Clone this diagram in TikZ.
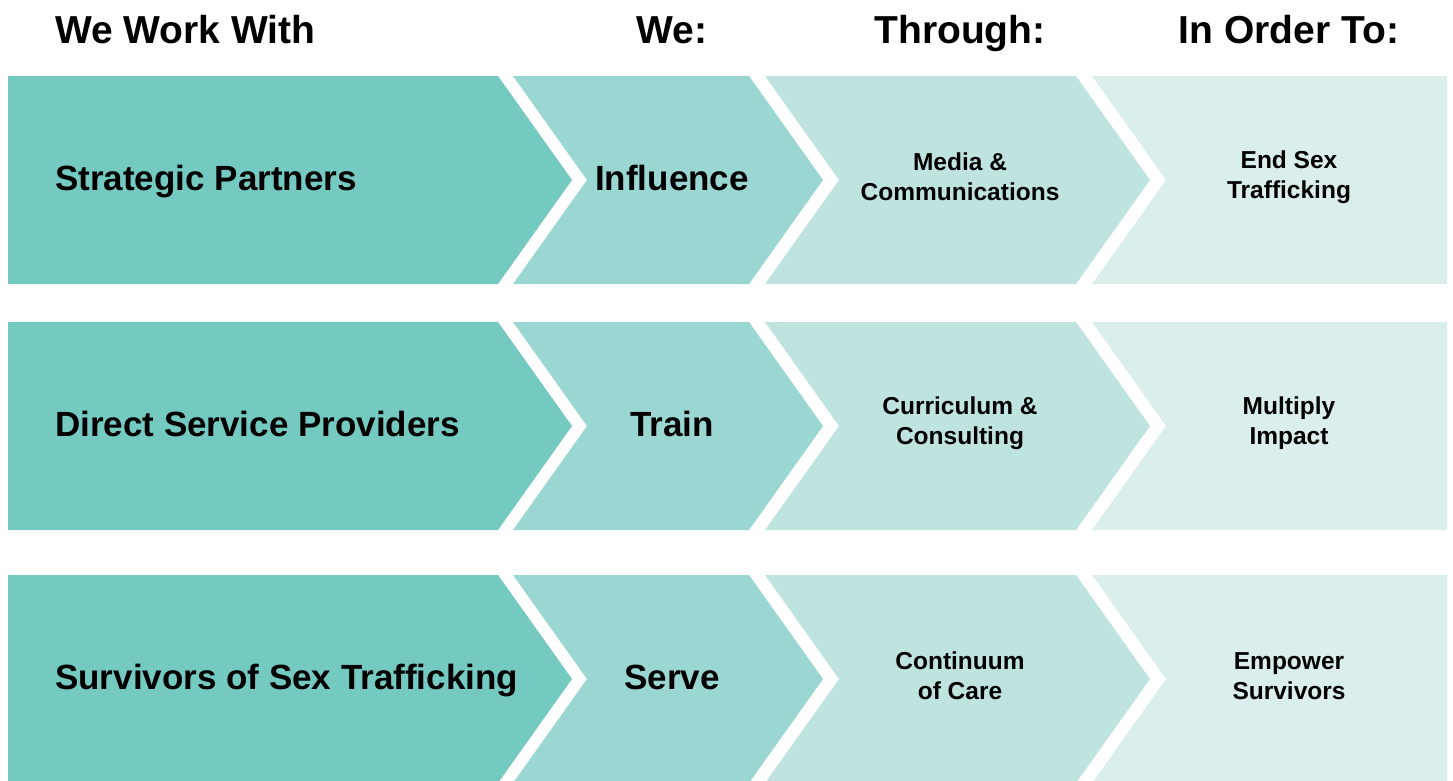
\documentclass[tikz,border=0pt]{standalone}
\usepackage{fontspec}
\setmainfont{Liberation Sans}
\definecolor{cA}{HTML}{74C9C1}
\definecolor{cB}{HTML}{9BD7D2}
\definecolor{cC}{HTML}{BFE4E0}
\definecolor{cD}{HTML}{DAEEEB}
\tikzset{
  head/.style={font=\bfseries\fontsize{39}{44}\selectfont, inner sep=0pt, anchor=base},
  big/.style={font=\bfseries\fontsize{35}{40}\selectfont, inner sep=0pt, anchor=base},
  small/.style={font=\bfseries\fontsize{24.5}{30}\selectfont, inner sep=0pt, align=center},
}
\begin{document}
\begin{tikzpicture}[x=1pt,y=-1pt]
\useasboundingbox (0,0) rectangle (1453,780);
\clip (0,0) rectangle (1453,780);
% headers
\node[head, anchor=base west] (h1) at (55,43) {We Work With};
\node[head] (h2) at (672,43) {We:};
\node[head] (h3) at (960,43) {Through:};
\node[head] (h4) at (1289,43) {In Order To:};
% rows
\foreach \T/\i in {76/1,322/2,575/3}{
  \pgfmathsetmacro{\B}{\T+208}
  \pgfmathsetmacro{\M}{\T+104}
  \fill[cA] (8,\T) -- (498,\T) -- (572,\M) -- (498,\B) -- (8,\B) -- cycle;
  \fill[cB] (513,\T) -- (749,\T) -- (823,\M) -- (749,\B) -- (513,\B) -- (587,\M) -- cycle;
  \fill[cC] (765,\T) -- (1076,\T) -- (1150,\M) -- (1076,\B) -- (765,\B) -- (839,\M) -- cycle;
  \fill[cD] (1092,\T) -- (1447,\T) -- (1447,\B) -- (1092,\B) -- (1166,\M) -- cycle;
  \coordinate (m\i) at (0,\M);
}
% row 1
\node[big, anchor=base west] (a1) at ([xshift=55pt,yshift=-10pt]m1) {Strategic Partners};
\node[big] (b1) at ([xshift=672pt,yshift=-10pt]m1) {Influence};
\node[small] (c1) at ([xshift=960pt,yshift=3pt]m1) {Media \&\\Communications};
\node[small] (d1) at ([xshift=1289pt,yshift=3pt]m1) {End Sex\\Trafficking};
% row 2
\node[big, anchor=base west] (a2) at ([xshift=55pt,yshift=-10pt]m2) {Direct Service Providers};
\node[big] (b2) at ([xshift=672pt,yshift=-10pt]m2) {Train};
\node[small] (c2) at ([xshift=960pt,yshift=3pt]m2) {Curriculum \&\\Consulting};
\node[small] (d2) at ([xshift=1289pt,yshift=3pt]m2) {Multiply\\Impact};
% row 3
\node[big, anchor=base west] (a3) at ([xshift=55pt,yshift=-10pt]m3) {Survivors of Sex Trafficking};
\node[big] (b3) at ([xshift=672pt,yshift=-10pt]m3) {Serve};
\node[small] (c3) at ([xshift=960pt,yshift=3pt]m3) {Continuum\\of Care};
\node[small] (d3) at ([xshift=1289pt,yshift=3pt]m3) {Empower\\Survivors};
\end{tikzpicture}
\end{document}
